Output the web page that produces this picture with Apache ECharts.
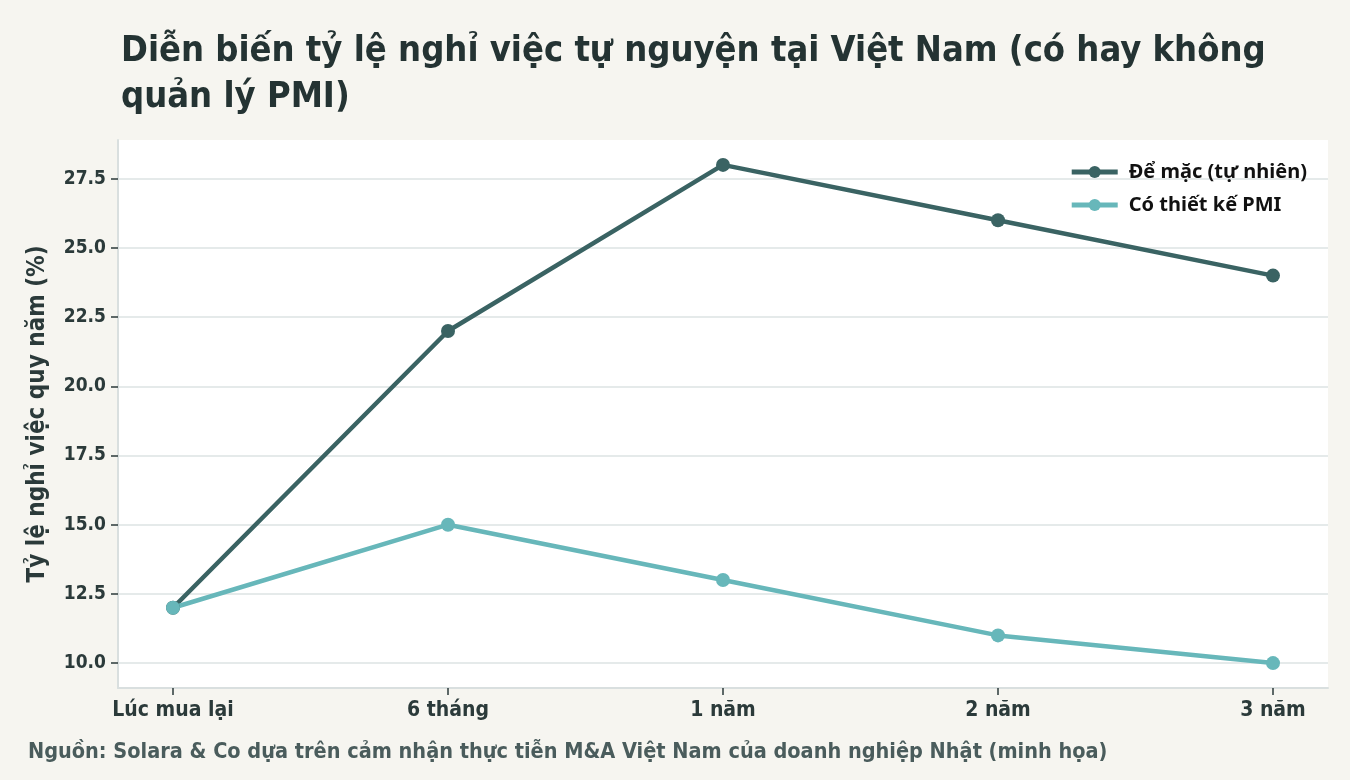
<!DOCTYPE html>
<html>
<head>
<meta charset="utf-8">
<script src="https://cdn.jsdelivr.net/npm/echarts@6.0.0/dist/echarts.min.js"></script>
<style>
  html, body { margin: 0; padding: 0; background: #f6f5f0; }
  #chart { width: 1350px; height: 780px; }
</style>
</head>
<body>
<div id="chart"></div>
<script>
// data
const categories = ["Lúc mua lại", "6 tháng", "1 năm", "2 năm", "3 năm"];
const seriesNames = ["Để mặc (tự nhiên)", "Có thiết kế PMI"];
const naturalValues = [12, 22, 28, 26, 24];
const pmiValues = [12, 15, 13, 11, 10];
const yTicks = [10, 12.5, 15, 17.5, 20, 22.5, 25, 27.5];
const xTicks = [0, 1, 2, 3, 4];

const font = "'Liberation Sans Narrow', 'DejaVu Sans Condensed', 'Noto Sans', sans-serif";
const textColor = "#2b3a3a";

const chart = echarts.init(document.getElementById('chart'));

const option = {
    backgroundColor: "#f6f5f0",
    textStyle: { fontFamily: font },
    title: {
        text: "Diễn biến tỷ lệ nghỉ việc tự nguyện tại Việt Nam (có hay không\nquản lý PMI)",
        left: 116,
        top: 24,
        textStyle: {
            fontFamily: font,
            fontSize: 36,
            fontWeight: "bold",
            color: "#243333",
            lineHeight: 46
        }
    },
    legend: {
        orient: "vertical",
        right: 38,
        top: 157,
        itemWidth: 46,
        itemHeight: 15,
        itemGap: 13,
        lineStyle: { width: 5 },
        textStyle: {
            fontFamily: "'Noto Sans', 'DejaVu Sans', sans-serif",
            fontSize: 20,
            fontWeight: "bold",
            color: "#111111",
            padding: [0, 0, 0, 6]
        },
        data: seriesNames
    },
    grid: {
        left: 118,
        right: 22,
        top: 140,
        bottom: 92,
        show: true,
        backgroundColor: "#ffffff",
        borderWidth: 0
    },
    xAxis: {
        type: "value",
        min: -0.2,
        max: 4.2,
        axisLine: { show: true, onZero: false, lineStyle: { color: "#d9dfdf", width: 2 } },
        axisTick: {
            show: true,
            customValues: xTicks,
            length: 7,
            lineStyle: { color: "#2b3a3a", width: 1.5 }
        },
        axisLabel: {
            customValues: xTicks,
            formatter: (v) => categories[v] || "",
            fontFamily: font,
            fontSize: 21,
            fontWeight: "bold",
            color: textColor,
            margin: 12
        },
        splitLine: { show: false }
    },
    yAxis: {
        type: "value",
        min: 9.1,
        max: 28.9,
        name: "Tỷ lệ nghỉ việc quy năm (%)",
        nameLocation: "middle",
        nameRotate: 90,
        nameGap: 68,
        nameTextStyle: {
            fontFamily: font,
            fontSize: 24,
            fontWeight: "bold",
            color: textColor
        },
        axisLine: { show: true, onZero: false, lineStyle: { color: "#d9dfdf", width: 2 } },
        axisTick: {
            show: true,
            customValues: yTicks,
            length: 7,
            lineStyle: { color: "#2b3a3a", width: 1.5 }
        },
        axisLabel: {
            customValues: yTicks,
            formatter: (v) => v.toFixed(1),
            fontFamily: font,
            fontSize: 19,
            fontWeight: "bold",
            color: textColor,
            margin: 12
        },
        splitLine: { show: true, lineStyle: { color: "#dde3e3", width: 1.5 } }
    },
    series: [
        {
            name: seriesNames[0],
            type: "line",
            data: naturalValues.map((v, i) => [i, v]),
            symbol: "circle",
            symbolSize: 14,
            lineStyle: { width: 4.5, color: "#3a6363" },
            itemStyle: { color: "#3a6363" }
        },
        {
            name: seriesNames[1],
            type: "line",
            data: pmiValues.map((v, i) => [i, v]),
            symbol: "circle",
            symbolSize: 14,
            lineStyle: { width: 4.5, color: "#67b7ba" },
            itemStyle: { color: "#67b7ba" }
        }
    ],
    graphic: [
        {
            type: "text",
            left: 28,
            top: 741,
            style: {
                text: "Nguồn: Solara & Co dựa trên cảm nhận thực tiễn M&A Việt Nam của doanh nghiệp Nhật (minh họa)",
                fontFamily: font,
                fontSize: 21.5,
                fontWeight: "bold",
                fill: "#4a5c5c"
            }
        }
    ]
};

chart.setOption(option);
</script>
</body>
</html>
